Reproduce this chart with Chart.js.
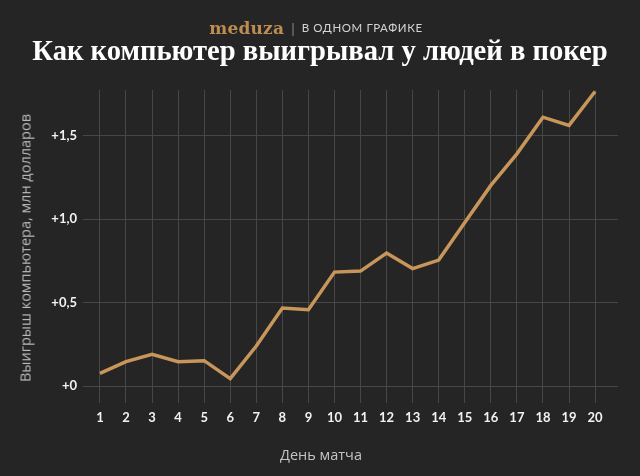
<!DOCTYPE html>
<html lang="ru">
<head>
<meta charset="UTF-8">
<title>Как компьютер выигрывал у людей в покер</title>
<script src="https://cdn.jsdelivr.net/npm/chart.js"></script>
<style>
  html, body { margin: 0; padding: 0; background: #252525; }
  #wrap { position: relative; width: 640px; height: 476px; overflow: hidden; font-family: Lato, "Open Sans", sans-serif; }
  #chart { position: absolute; left: 0; top: 0; }
  .brand { position: absolute; top: 18px; left: -4px; width: 640px; text-align: center; white-space: nowrap; }
  .brand .logo { font-family: "DejaVu Serif", serif; font-weight: bold; color: #bd8c52; font-size: 17px; letter-spacing: 0.2px; }
  .brand .sep { color: #888; font-size: 14px; margin: 0 7px 0 7px; }
  .brand .sub { color: #d5d5d5; font-size: 11.5px; letter-spacing: 0.6px; position: relative; top: -2px; }
  h1 { position: absolute; top: 35px; left: 0; width: 640px; margin: 0; text-align: center;
       font-family: "Liberation Serif", serif; font-weight: bold; font-size: 28.6px; color: #fff; white-space: nowrap; }
  .ytitle { position: absolute; left: 25px; top: 248px; transform: translate(-50%, -50%) rotate(-90deg);
            font-family: "Open Sans", sans-serif; color: #b9b9b9; font-size: 14.5px; white-space: nowrap; }
  .xtitle { position: absolute; left: 321px; top: 454px; transform: translate(-50%, -50%);
            font-family: "Open Sans", sans-serif; color: #c4c4c4; font-size: 14.5px; white-space: nowrap; }
</style>
</head>
<body>
<div id="wrap">
  <canvas id="chart" width="640" height="476"></canvas>
  <div class="brand"><span class="logo">meduza</span><span class="sep">|</span><span class="sub">В ОДНОМ ГРАФИКЕ</span></div>
  <h1>Как компьютер выигрывал у людей в покер</h1>
  <div class="ytitle">Выигрыш компьютера, млн долларов</div>
  <div class="xtitle">День матча</div>
</div>
<script>
  // match days and the computer's cumulative winnings, mln $
  const days = [1, 2, 3, 4, 5, 6, 7, 8, 9, 10, 11, 12, 13, 14, 15, 16, 17, 18, 19, 20];
  const winnings = [0.076, 0.146, 0.19, 0.146, 0.152, 0.044, 0.24, 0.467, 0.458, 0.683,
                    0.689, 0.797, 0.704, 0.755, 0.98, 1.203, 1.392, 1.612, 1.563, 1.766];
  const yTicks = [0, 0.5, 1.0, 1.5];
  const yTickLabels = ['+0', '+0,5', '+1,0', '+1,5'];

  const gridColor = '#474747';

  new Chart(document.getElementById('chart'), {
    type: 'line',
    data: {
      datasets: [{
        data: days.map((d, i) => ({ x: d, y: winnings[i] })),
        borderColor: '#c8965a',
        borderWidth: 3.5,
        pointRadius: 0,
        tension: 0,
        fill: false
      }]
    },
    options: {
      responsive: false,
      animation: false,
      plugins: { legend: { display: false }, tooltip: { enabled: false } },
      layout: { padding: { top: 90, right: 22, left: 0, bottom: 0 } },
      scales: {
        x: {
          type: 'linear',
          min: 0.35,
          max: 20.88,
          afterBuildTicks: s => { s.ticks = days.map(v => ({ value: v })); },
          afterFit: s => { s.height = 90; },
          border: { display: false },
          grid: { color: gridColor, lineWidth: 1, tickLength: 17 },
          ticks: {
            color: '#f2f2f2',
            padding: 7,
            maxRotation: 0,
            autoSkip: false,
            font: { family: 'Lato', weight: 'bold', size: 13 },
            callback: v => String(v)
          }
        },
        y: {
          min: 0,
          max: 1.775,
          afterBuildTicks: s => { s.ticks = yTicks.map(v => ({ value: v })); },
          afterFit: s => { s.width = 83; },
          border: { display: false },
          grid: { color: gridColor, lineWidth: 1, drawTicks: false },
          ticks: {
            color: '#f2f2f2',
            padding: 6,
            font: { family: 'Lato', weight: 'bold', size: 13 },
            callback: v => yTickLabels[yTicks.indexOf(v)]
          }
        }
      }
    }
  });
</script>
</body>
</html>
